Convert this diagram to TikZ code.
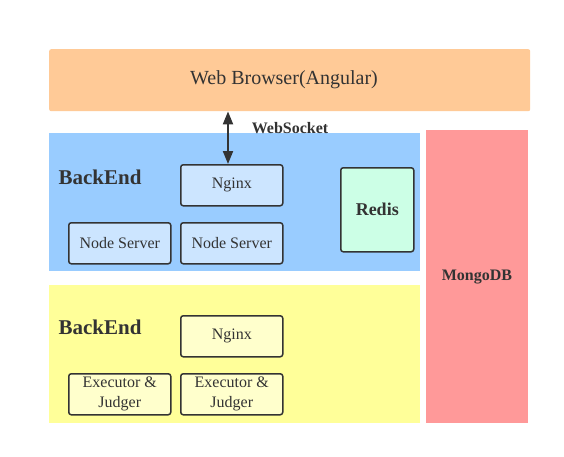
\documentclass[tikz,border=0pt]{standalone}
\usepackage{fontspec}
\setmainfont{DejaVu Serif}
\newfontfamily\timesfont{Liberation Serif}
\usepackage{tikz}
\usetikzlibrary{positioning,arrows.meta}
\definecolor{browser}{HTML}{FFCA97}
\definecolor{backblue}{HTML}{99CCFF}
\definecolor{backyellow}{HTML}{FFFF99}
\definecolor{mongo}{HTML}{FF9999}
\definecolor{boxblue}{HTML}{CCE5FF}
\definecolor{boxyellow}{HTML}{FFFFCC}
\definecolor{redisgreen}{HTML}{CCFFE6}
\definecolor{ink}{HTML}{333333}

\begin{document}
\begin{tikzpicture}[x=1pt,y=-1pt,font=\timesfont\fontsize{16}{20}\selectfont,text=ink]
\tikzstyle{every node}+=[inner sep=0pt]
\tikzstyle{area}=[rectangle,draw=none,anchor=north west]
\tikzstyle{comp}=[rectangle,draw=ink,line width=1.5pt,rounded corners=2.5pt,anchor=north west,minimum width=102pt,minimum height=41pt,align=center]
\useasboundingbox (0,0) rectangle (564,456);
\fill [white] (0,0) rectangle (564,456);
\node [area,fill=browser,rounded corners=2pt,minimum width=481pt,minimum height=62pt] (browser) at (49,49) {};
\node [font=\timesfont\fontsize{20}{24}\selectfont] (browsertext) at (284,80) {Web Browser(Angular)};
\node [area,fill=backblue,minimum width=371pt,minimum height=138pt] (blue) at (49,133) {};
\node [area,fill=backyellow,minimum width=371pt,minimum height=138pt] (yellow) at (49,285) {};
\node [area,fill=mongo,minimum width=102pt,minimum height=293pt] (mongo) at (426,130) {};
\node [font=\timesfont\fontsize{16}{20}\selectfont\bfseries] (mongotext) at (477,277) {MongoDB};
% upper backend
\node [font=\timesfont\fontsize{21}{24}\selectfont\bfseries] (blabel) at (100,177) {BackEnd};
\node [comp,fill=boxblue] (nginx) at (180,164) {Nginx};
\node [comp,fill=boxblue] (node1) at (68,222) {Node Server};
\node [comp,fill=boxblue] (node2) at (180,222) {Node Server};
\node [comp,fill=redisgreen,minimum width=73pt,minimum height=84pt,font=\timesfont\fontsize{18}{20}\selectfont\bfseries] (redis) at (340,167) {Redis};
\coordinate (wsend) at (228,164);
\draw [ink,line width=2pt,{Triangle[width=10pt,length=13pt]}-{Triangle[width=10pt,length=13pt]}] (browser.south -| wsend) -- (wsend);
\node [font=\timesfont\fontsize{16}{20}\selectfont\bfseries] (websocket) at (290,128) {WebSocket};
% lower backend
\node [font=\timesfont\fontsize{21}{24}\selectfont\bfseries] (ylabel) at (100,327) {BackEnd};
\node [comp,fill=boxyellow] (nginxb) at (180,315) {Nginx};
\node [comp,fill=boxyellow] (exec1) at (68,373) {Executor \&\\Judger};
\node [comp,fill=boxyellow] (exec2) at (180,373) {Executor \&\\Judger};
\end{tikzpicture}
\end{document}
